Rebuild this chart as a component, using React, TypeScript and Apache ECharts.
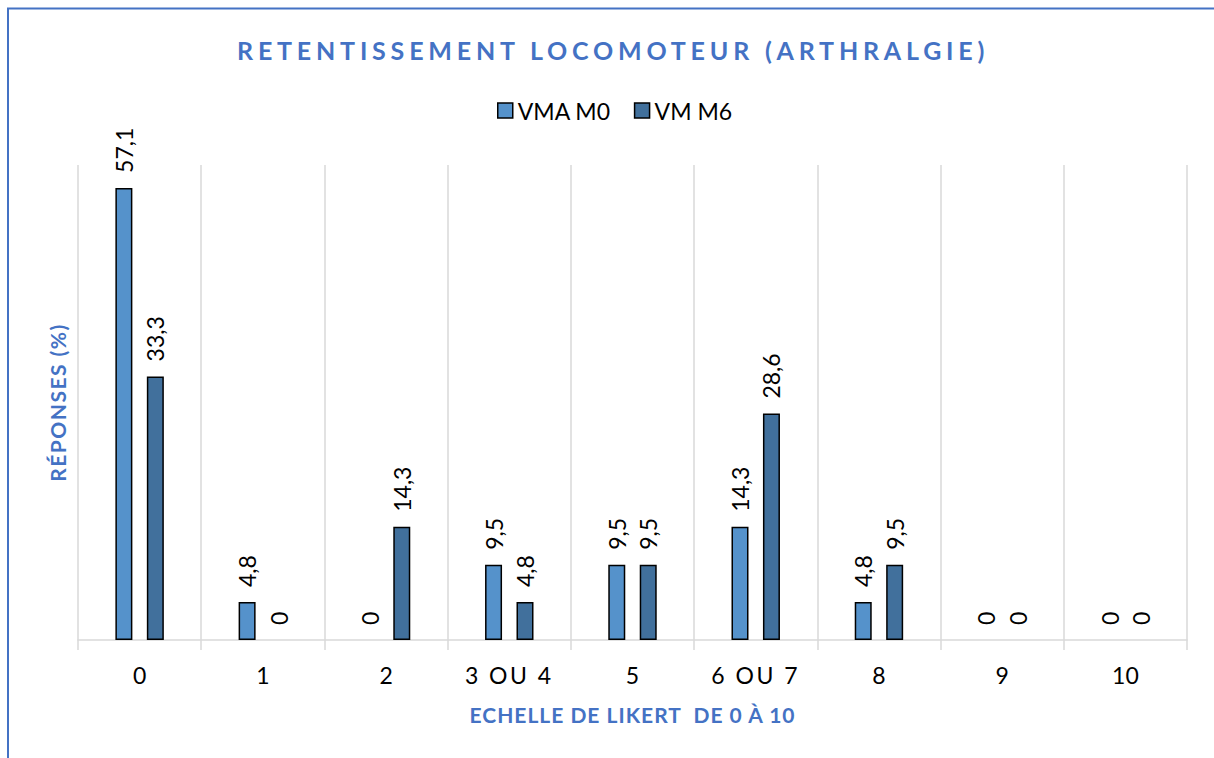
import React, { useEffect, useRef } from "react";
import * as echarts from "echarts";

const categories = ["0", "1", "2", "3 OU 4", "5", "6 OU 7", "8", "9", "10"];
const seriesNames = ["VMA M0", "VM M6"];
const vmaM0 = [57.1, 4.8, 0, 9.5, 9.5, 14.3, 4.8, 0, 0];
const vmM6 = [33.3, 0, 14.3, 4.8, 9.5, 28.6, 9.5, 0, 0];
const titleText = "RETENTISSEMENT LOCOMOTEUR (ARTHRALGIE)";
const xName = "ECHELLE DE LIKERT  DE 0 À 10";
const yName = "RÉPONSES (%)";

const FONT = "Lato, 'Open Sans', sans-serif";
const BLUE = "#4472C4";
const GRID = "#D9D9D9";

const norm = (s: string) => s.replace(/\s+/g, " ").trim();
const spacing: Record<string, string> = {
  [norm(titleText)]: "4.8px",
  [norm(xName)]: "1px",
  [norm(yName)]: "1.5px",
  "3 OU 4": "2.5px",
  "6 OU 7": "2.5px",
};

export default function App() {
  const ref = useRef<HTMLDivElement>(null);
  useEffect(() => {
    if (!ref.current) return;
    const chart = echarts.init(ref.current, null, { renderer: "svg" });
    const label = {
      show: true,
      position: "top",
      distance: 15,
      rotate: 90,
      align: "left",
      verticalAlign: "middle",
      fontSize: 23,
      fontFamily: FONT,
      color: "#000",
      formatter: (p: any) => String(p.value).replace(".", ","),
    };
    const toData = (arr: number[]) =>
      arr.map((v) => (v === 0 ? { value: v, itemStyle: { borderWidth: 0 } } : v));
    chart.setOption({
      animation: false,
      backgroundColor: "#fff",
      textStyle: { fontFamily: FONT },
      title: {
        text: titleText,
        left: 237,
        top: 37,
        padding: 0,
        textStyle: {
          fontFamily: FONT,
          fontSize: 25,
          fontWeight: "bold",
          color: BLUE,
        },
      },
      legend: {
        data: seriesNames,
        left: 497,
        top: 99,
        padding: 0,
        icon: "rect",
        itemWidth: 15,
        itemHeight: 15,
        itemGap: 23,
        itemStyle: { borderColor: "#000", borderWidth: 1.5 },
        textStyle: { fontSize: 23, color: "#000", fontFamily: FONT },
      },
      grid: { left: 78, right: 27, top: 165, bottom: 118, containLabel: false },
      xAxis: {
        type: "category",
        data: categories,
        name: xName,
        nameLocation: "middle",
        nameGap: 64,
        nameTextStyle: {
          fontFamily: FONT,
          fontSize: 21,
          fontWeight: "bold",
          color: BLUE,
        },
        axisLine: { show: true, lineStyle: { color: GRID, width: 1.5 } },
        axisTick: { show: true, length: 10, lineStyle: { color: GRID, width: 1.5 } },
        axisLabel: { margin: 23, fontSize: 23, color: "#000", fontFamily: FONT },
        splitLine: { show: true, lineStyle: { color: GRID, width: 1.5 } },
      },
      yAxis: {
        type: "value",
        min: 0,
        max: 60,
        name: yName,
        nameLocation: "middle",
        nameGap: 10,
        nameTextStyle: {
          fontFamily: FONT,
          fontSize: 21,
          fontWeight: "bold",
          color: BLUE,
        },
        axisLine: { show: false },
        axisTick: { show: false },
        axisLabel: { show: false },
        splitLine: { show: false },
      },
      series: [
        {
          name: seriesNames[0],
          type: "bar",
          data: toData(vmaM0),
          barWidth: 17,
          barGap: "85%",
          itemStyle: { color: "#5592CB", borderColor: "#000", borderWidth: 1.5 },
          label,
        },
        {
          name: seriesNames[1],
          type: "bar",
          data: toData(vmM6),
          barWidth: 17,
          barGap: "85%",
          itemStyle: { color: "#41709C", borderColor: "#000", borderWidth: 1.5 },
          label,
        },
      ],
      graphic: [
        {
          type: "line",
          shape: { x1: 8, y1: 8, x2: 8, y2: 758 },
          style: { stroke: BLUE, lineWidth: 2 },
          silent: true,
        },
        {
          type: "line",
          shape: { x1: 7, y1: 8.5, x2: 1214, y2: 8.5 },
          style: { stroke: BLUE, lineWidth: 2 },
          silent: true,
        },
      ],
    });
    const apply = () => {
      ref.current?.querySelectorAll("text").forEach((t) => {
        const s = spacing[norm(t.textContent || "")];
        if (s) (t as SVGTextElement).style.letterSpacing = s;
      });
    };
    apply();
    chart.on("finished", apply);
    return () => chart.dispose();
  }, []);
  return (
    <div
      ref={ref}
      style={{ position: "absolute", left: 0, top: 0, width: 1214, height: 758 }}
    />
  );
}
